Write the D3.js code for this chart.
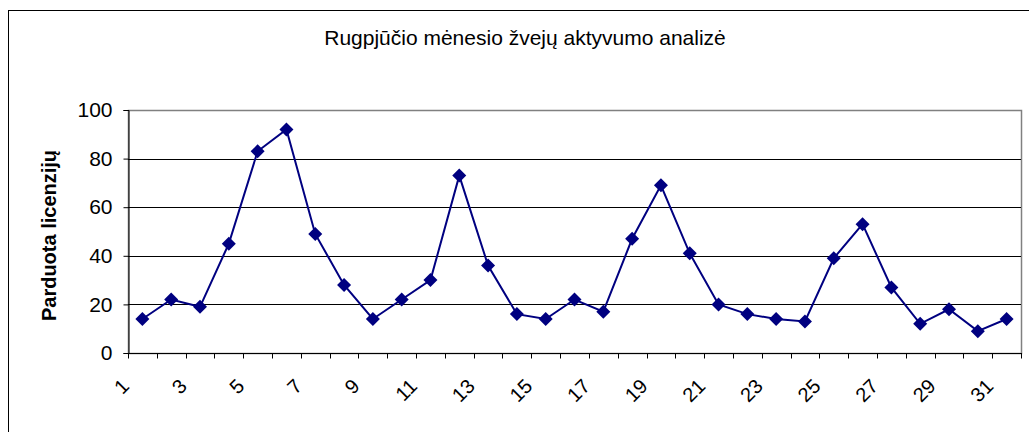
<!DOCTYPE html>
<html>
<head>
<meta charset="utf-8">
<script src="https://cdn.jsdelivr.net/npm/d3@7"></script>
<style>
  body { margin: 0; background: #fff; }
  svg { display: block; font-family: "Liberation Sans", Arial, sans-serif; }
</style>
</head>
<body>
<svg id="chart" width="1029" height="432"></svg>
<script>
// days of August
const days = d3.range(1, 32).map(String);
// licences sold per day
const sold = [14, 22, 19, 45, 83, 92, 49, 28, 14, 22, 30, 73, 36, 16, 14, 22, 17, 47, 69, 41,
              20, 16, 14, 13, 39, 53, 27, 12, 18, 9, 14];
const yTicks = [0, 20, 40, 60, 80, 100];
const title = "Rugpjūčio mėnesio žvejų aktyvumo analizė";
const yTitle = "Parduota licenzijų";

const svg = d3.select("#chart");
const plot = { left: 128, right: 1021, top: 110, bottom: 353 };
const navy = "#000080";

// outer chart frame (runs off the right and bottom edge)
svg.append("rect")
    .attr("x", 8.5).attr("y", 10.5)
    .attr("width", 1100).attr("height", 500)
    .attr("fill", "none").attr("stroke", "#000").attr("stroke-width", 1);

let x = d3.scaleBand().domain(days).range([plot.left, plot.right]).padding(0);
let y = d3.scaleLinear().domain([0, 100]).range([plot.bottom, plot.top]);

// plot area border
svg.append("rect")
    .attr("x", plot.left + 0.5).attr("y", plot.top + 0.5)
    .attr("width", plot.right - plot.left).attr("height", plot.bottom - plot.top)
    .attr("fill", "none").attr("stroke", "#808080").attr("stroke-width", 1.5);

// gridlines
svg.append("g")
    .selectAll("line")
    .data(yTicks.filter(d => d > 0 && d < 100))
    .join("line")
    .attr("x1", plot.left).attr("x2", plot.right)
    .attr("y1", d => Math.round(y(d)) + 0.5).attr("y2", d => Math.round(y(d)) + 0.5)
    .attr("stroke", "#000").attr("stroke-width", 1);

// y axis
let yAxis = svg.append("g")
    .attr("transform", `translate(${plot.left + 0.5},0)`)
    .call(d3.axisLeft(y).tickValues(yTicks).tickSize(5).tickPadding(11));
yAxis.select(".domain").attr("stroke", "#000");
yAxis.selectAll("text").attr("font-size", 21).attr("fill", "#000")
    .attr("font-family", "Liberation Sans, Arial, sans-serif");

// x axis: ticks on category boundaries
let xAxis = svg.append("g").attr("transform", `translate(0,${plot.bottom + 0.5})`);
xAxis.append("line")
    .attr("x1", plot.left).attr("x2", plot.right + 1)
    .attr("stroke", "#000");
xAxis.selectAll("line.tick")
    .data(days.concat(["end"]))
    .join("line").attr("class", "tick")
    .attr("x1", (d, i) => Math.round(plot.left + i * x.step()) + 0.5)
    .attr("x2", (d, i) => Math.round(plot.left + i * x.step()) + 0.5)
    .attr("y1", 0).attr("y2", 5)
    .attr("stroke", "#000");
xAxis.selectAll("text")
    .data(days.filter((d, i) => i % 2 === 0))
    .join("text")
    .attr("transform", d => `translate(${x(d) + x.bandwidth() / 2 - 12},${387 - plot.bottom}) rotate(-45)`)
    .attr("text-anchor", "end")
    .attr("font-size", 20)
    .text(d => d);

// line
svg.append("path")
    .datum(sold)
    .attr("fill", "none")
    .attr("stroke", navy)
    .attr("stroke-width", 2)
    .attr("d", d3.line()
        .x((d, i) => x(days[i]) + x.bandwidth() / 2)
        .y(d => y(d)));

// diamond markers
const r = 7;
svg.append("g")
    .selectAll("path")
    .data(sold)
    .join("path")
    .attr("transform", (d, i) => `translate(${x(days[i]) + x.bandwidth() / 2},${y(d)})`)
    .attr("d", `M0,${-r}L${r},0L0,${r}L${-r},0Z`)
    .attr("fill", navy);

// titles
svg.append("text")
    .attr("x", 525).attr("y", 45)
    .attr("text-anchor", "middle")
    .attr("font-size", 21)
    .text(title);

svg.append("text")
    .attr("transform", `translate(56,${(plot.top + plot.bottom) / 2 + 4}) rotate(-90)`)
    .attr("text-anchor", "middle")
    .attr("font-size", 20)
    .attr("font-weight", "bold")
    .text(yTitle);
</script>
</body>
</html>
